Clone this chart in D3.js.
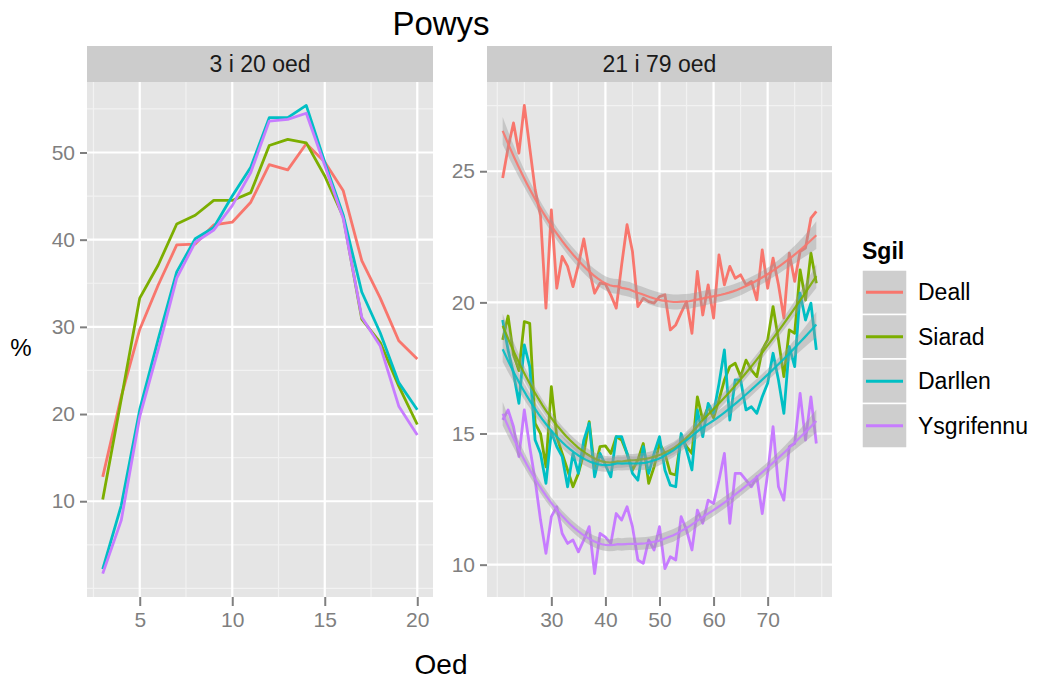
<!DOCTYPE html>
<html>
<head>
<meta charset="utf-8">
<script src="https://cdn.jsdelivr.net/npm/d3@7/dist/d3.min.js"></script>
<style>
  html, body { margin: 0; padding: 0; background: #ffffff; }
  svg { display: block; font-family: "Liberation Sans", Arial, Helvetica, sans-serif; }
</style>
</head>
<body>
<svg id="chart" width="1041" height="682"></svg>
<script>
// ---- data -------------------------------------------------------------
const sgil = ["Deall", "Siarad", "Darllen", "Ysgrifennu"];
const panelTitles = ["3 i 20 oed", "21 i 79 oed"];

// ages 3 to 20
const oedIfanc = [3, 4, 5, 6, 7, 8, 9, 10, 11, 12, 13, 14, 15, 16, 17, 18, 19, 20];
const deallIfanc      = [12.8, 22.0, 29.7, 34.8, 39.4, 39.5, 41.7, 42.0, 44.3, 48.6, 48.0, 51.0, 48.9, 45.6, 37.6, 33.3, 28.4, 26.3];
const siaradIfanc     = [10.2, 21.7, 33.3, 37.1, 41.8, 42.8, 44.5, 44.5, 45.4, 50.8, 51.5, 51.1, 47.3, 42.6, 30.9, 28.2, 23.2, 18.8];
const darllenIfanc    = [2.2, 9.5, 20.5, 28.6, 36.3, 40.1, 41.4, 45.0, 48.3, 54.0, 54.0, 55.4, 48.9, 42.8, 34.0, 29.3, 23.6, 20.5];
const ysgrifennuIfanc = [1.7, 7.8, 19.7, 27.4, 35.6, 39.7, 41.1, 43.9, 47.7, 53.6, 53.8, 54.5, 48.5, 42.4, 31.1, 27.8, 20.9, 17.6];

// ages 21 to 79
const oedHyn = [21, 22, 23, 24, 25, 26, 27, 28, 29, 30, 31, 32, 33, 34, 35, 36, 37, 38, 39, 40,
                41, 42, 43, 44, 45, 46, 47, 48, 49, 50, 51, 52, 53, 54, 55, 56, 57, 58, 59, 60,
                61, 62, 63, 64, 65, 66, 67, 68, 69, 70, 71, 72, 73, 74, 75, 76, 77, 78, 79];
const deallHyn = [24.74, 25.9, 26.84, 25.69, 27.51, 25.9, 24.3, 23.3, 19.78, 23.53,
                  20.54, 21.75, 21.37, 20.6, 21.43, 22.42, 21.25, 20.35, 20.73, 20.7,
                  20.28, 19.78, 21.43, 22.96, 21.94, 19.84, 20.16, 20.03, 19.97, 20.22,
                  20.29, 18.95, 19.14, 19.6, 20.03, 18.82, 21.18, 19.52, 20.67, 19.4,
                  21.81, 20.67, 21.37, 20.92, 21.05, 20.67, 20.8, 20.1, 22.0, 20.54,
                  21.69, 20.67, 19.4, 21.88, 20.8, 21.94, 22.07, 23.21, 23.47];
const siaradHyn = [18.57, 19.48, 18.0, 17.4, 19.27, 19.2, 15.39, 15.0, 13.73, 16.79,
                   14.88, 14.24, 13.61, 12.97, 13.48, 14.24, 15.45, 13.61, 14.5, 14.53,
                   14.24, 14.88, 14.75, 14.24, 13.61, 13.99, 14.62, 13.1, 13.73, 14.62,
                   14.24, 13.48, 13.42, 14.88, 14.5, 14.24, 16.4, 15.51, 16.02, 15.6,
                   16.28, 17.04, 17.55, 17.68, 17.17, 17.8, 17.42, 17.17, 18.19, 18.57,
                   19.84, 18.57, 17.17, 18.95, 18.82, 21.24, 20.09, 21.88, 20.73];
const darllenHyn = [19.33, 18.18, 17.3, 16.15, 18.38, 17.55, 14.75, 14.24, 13.1, 15.07,
                    14.5, 14.12, 12.97, 14.24, 13.48, 14.75, 15.39, 13.35, 14.24, 13.8,
                    13.35, 14.88, 14.88, 14.24, 13.48, 13.22, 14.5, 13.48, 14.24, 14.88,
                    13.61, 13.03, 12.97, 15.0, 14.37, 13.61, 15.9, 14.88, 16.15, 15.77,
                    16.9, 18.19, 15.51, 17.04, 17.04, 15.9, 16.02, 15.77, 16.4, 16.92,
                    18.06, 17.04, 15.77, 18.31, 17.55, 20.35, 19.33, 19.97, 18.19];
const ysgrifennuHyn = [15.52, 15.9, 15.26, 14.12, 15.9, 14.5, 13.22, 11.7, 10.43, 11.83,
                       12.21, 11.19, 10.81, 10.94, 10.49, 10.94, 11.45, 9.66, 11.19, 11.05,
                       10.81, 11.95, 11.7, 12.21, 11.45, 10.18, 10.05, 10.94, 10.56, 11.45,
                       9.85, 10.3, 10.18, 11.83, 11.32, 10.56, 12.08, 11.58, 12.46, 12.33,
                       13.22, 14.24, 11.58, 13.48, 13.48, 13.22, 12.97, 13.35, 11.95, 13.48,
                       15.26, 12.97, 12.46, 14.5, 14.62, 16.53, 14.75, 16.4, 14.62];

const ticksIfancX = [5, 10, 15, 20];
const ticksIfancY = [10, 20, 30, 40, 50];
const ticksHynX = [30, 40, 50, 60, 70];
const ticksHynY = [10, 15, 20, 25];

// ---- styling ------------------------------------------------------------
const colours = d3.scaleOrdinal().domain(sgil).range(["#F8766D", "#7CAE00", "#00BFC4", "#C77CFF"]);
const panelTop = 82, panelBottom = 597, stripTop = 46;
const panels = [
  { title: panelTitles[0], ages: oedIfanc, series: [deallIfanc, siaradIfanc, darllenIfanc, ysgrifennuIfanc],
    x0: 87, x1: 433, xTicks: ticksIfancX, yTicks: ticksIfancY, smooth: false },
  { title: panelTitles[1], ages: oedHyn, series: [deallHyn, siaradHyn, darllenHyn, ysgrifennuHyn],
    x0: 487, x1: 832, xTicks: ticksHynX, yTicks: ticksHynY, smooth: true }
];

// ---- local regression (degree 2, tricube weights, span 0.75) -------------
function invert3(m) {
  const [a, b, c] = m[0], [d, e, f] = m[1], [g, h, i] = m[2];
  const A = e * i - f * h, B = -(d * i - f * g), C = d * h - e * g;
  const det = a * A + b * B + c * C;
  return [
    [A / det, -(b * i - c * h) / det, (b * f - c * e) / det],
    [B / det, (a * i - c * g) / det, -(a * f - c * d) / det],
    [C / det, -(a * h - b * g) / det, (a * e - b * d) / det]
  ];
}
function loessRow(xs, x0, span) {
  const n = xs.length, q = Math.floor(n * span);
  const dist = xs.map(x => Math.abs(x - x0));
  const h = dist.slice().sort((p, r) => p - r)[q - 1];
  const w = dist.map(di => { const u = di / h; return u < 1 ? Math.pow(1 - u * u * u, 3) : 0; });
  const S = [[0, 0, 0], [0, 0, 0], [0, 0, 0]];
  xs.forEach((x, k) => {
    const t = x - x0, b = [1, t, t * t];
    for (let r = 0; r < 3; r++) for (let c = 0; c < 3; c++) S[r][c] += w[k] * b[r] * b[c];
  });
  const Si = invert3(S);
  return xs.map((x, k) => { const t = x - x0; return w[k] * (Si[0][0] + Si[0][1] * t + Si[0][2] * t * t); });
}
function loessSmooth(xs, ys, span, nOut, mult) {
  const n = xs.length;
  const L = xs.map(x => loessRow(xs, x, span));
  const fitted = L.map(row => d3.sum(row, (l, k) => l * ys[k]));
  const rss = d3.sum(ys, (y, k) => (y - fitted[k]) ** 2);
  // delta1 = trace((I-L)'(I-L))
  let delta1 = 0;
  for (let i = 0; i < n; i++) for (let j = 0; j < n; j++) {
    const m = (i === j ? 1 : 0) - L[i][j];
    delta1 += m * m;
  }
  const sigma = Math.sqrt(rss / delta1);
  const [lo, hi] = d3.extent(xs);
  const out = [];
  for (let k = 0; k < nOut; k++) {
    const x0 = lo + (hi - lo) * k / (nOut - 1);
    const row = loessRow(xs, x0, span);
    const fit = d3.sum(row, (l, j) => l * ys[j]);
    const se = sigma * Math.sqrt(d3.sum(row, l => l * l));
    out.push({ x: x0, y: fit, ymin: fit - mult * se, ymax: fit + mult * se });
  }
  return out;
}

// ---- drawing -----------------------------------------------------------
const svg = d3.select("#chart");

svg.append("text")
  .attr("x", 441).attr("y", 35)
  .attr("text-anchor", "middle")
  .attr("font-size", 33).attr("fill", "#000000")
  .text("Powys");

panels.forEach(p => {
  const allVals = p.series.flat();
  let smooths = [];
  if (p.smooth) {
    smooths = p.series.map(ys => loessSmooth(p.ages, ys, 0.75, 80, 1.0));
    smooths.forEach(s => s.forEach(d => allVals.push(d.ymin, d.ymax)));
  }
  const [xmin, xmax] = d3.extent(p.ages);
  const [ymin, ymax] = d3.extent(allVals);
  const xpad = 0.05 * (xmax - xmin), ypad = 0.05 * (ymax - ymin);
  const x = d3.scaleLinear().domain([xmin - xpad, xmax + xpad]).range([p.x0, p.x1]);
  const y = d3.scaleLinear().domain([ymin - ypad, ymax + ypad]).range([panelBottom, panelTop]);

  const g = svg.append("g");

  // strip
  g.append("rect")
    .attr("x", p.x0).attr("y", stripTop)
    .attr("width", p.x1 - p.x0).attr("height", panelTop - stripTop)
    .attr("fill", "#CCCCCC");
  g.append("text")
    .attr("x", (p.x0 + p.x1) / 2).attr("y", (stripTop + panelTop) / 2)
    .attr("dy", "0.35em").attr("text-anchor", "middle")
    .attr("font-size", 23).attr("fill", "#1A1A1A")
    .text(p.title);

  // panel background
  g.append("rect")
    .attr("x", p.x0).attr("y", panelTop)
    .attr("width", p.x1 - p.x0).attr("height", panelBottom - panelTop)
    .attr("fill", "#E5E5E5");

  // minor grid: midpoints between major breaks, extended one step each side
  const minorOf = ticks => {
    const step = ticks[1] - ticks[0];
    const m = [];
    for (let v = ticks[0] - step; v <= ticks[ticks.length - 1] + step + 1e-9; v += step / 2) m.push(v);
    return m.filter(v => !ticks.includes(v));
  };
  const xd = x.domain(), yd = y.domain();
  const minorX = minorOf(p.xTicks).filter(v => v > xd[0] && v < xd[1]);
  const minorY = minorOf(p.yTicks).filter(v => v > yd[0] && v < yd[1]);

  g.selectAll(null).data(minorX).enter().append("line")
    .attr("x1", d => x(d)).attr("x2", d => x(d))
    .attr("y1", panelTop).attr("y2", panelBottom)
    .attr("stroke", "#F2F2F2").attr("stroke-width", 1.2);
  g.selectAll(null).data(minorY).enter().append("line")
    .attr("x1", p.x0).attr("x2", p.x1)
    .attr("y1", d => y(d)).attr("y2", d => y(d))
    .attr("stroke", "#F2F2F2").attr("stroke-width", 1.2);
  g.selectAll(null).data(p.xTicks).enter().append("line")
    .attr("x1", d => x(d)).attr("x2", d => x(d))
    .attr("y1", panelTop).attr("y2", panelBottom)
    .attr("stroke", "#FFFFFF").attr("stroke-width", 2.2);
  g.selectAll(null).data(p.yTicks).enter().append("line")
    .attr("x1", p.x0).attr("x2", p.x1)
    .attr("y1", d => y(d)).attr("y2", d => y(d))
    .attr("stroke", "#FFFFFF").attr("stroke-width", 2.2);

  // axes
  const xAxis = d3.axisBottom(x).tickValues(p.xTicks).tickSize(9).tickPadding(6).tickFormat(d3.format("d"));
  const yAxis = d3.axisLeft(y).tickValues(p.yTicks).tickSize(7).tickPadding(5).tickFormat(d3.format("d"));
  const gx = g.append("g").attr("transform", `translate(0,${panelBottom})`).call(xAxis);
  const gy = g.append("g").attr("transform", `translate(${p.x0},0)`).call(yAxis);
  [gx, gy].forEach(a => {
    a.select(".domain").remove();
    a.selectAll(".tick line").attr("stroke", "#7F7F7F").attr("stroke-width", 2);
    a.selectAll(".tick text").attr("fill", "#7F7F7F").attr("font-size", 21)
      .attr("font-family", "'Liberation Sans', Arial, sans-serif");
  });

  // data lines
  const line = d3.line().x(d => x(d[0])).y(d => y(d[1]));
  p.series.forEach((ys, i) => {
    g.append("path")
      .datum(p.ages.map((a, k) => [a, ys[k]]))
      .attr("d", line)
      .attr("fill", "none")
      .attr("stroke", colours(sgil[i]))
      .attr("stroke-width", 2.8)
      .attr("stroke-linejoin", "round");
  });

  // smoothers with confidence band
  if (p.smooth) {
    const band = d3.area().x(d => x(d.x)).y0(d => y(d.ymin)).y1(d => y(d.ymax));
    const sline = d3.line().x(d => x(d.x)).y(d => y(d.y));
    smooths.forEach((s, i) => {
      g.append("path").datum(s).attr("d", band)
        .attr("fill", "#999999").attr("fill-opacity", 0.4);
      g.append("path").datum(s).attr("d", sline)
        .attr("fill", "none").attr("stroke", colours(sgil[i]))
        .attr("stroke-width", 2.2).attr("stroke-opacity", 0.9);
    });
  }
});

// axis titles
svg.append("text")
  .attr("x", 441).attr("y", 674)
  .attr("text-anchor", "middle")
  .attr("font-size", 28).attr("fill", "#000000")
  .text("Oed");
svg.append("text")
  .attr("x", 21).attr("y", 348)
  .attr("text-anchor", "middle").attr("dy", "0.35em")
  .attr("font-size", 24).attr("fill", "#000000")
  .text("%");

// legend
const legend = svg.append("g").attr("transform", "translate(862,0)");
legend.append("text")
  .attr("x", 0).attr("y", 259)
  .attr("font-size", 23).attr("font-weight", "bold").attr("fill", "#000000")
  .text("Sgil");
const keyTop = 270, keyH = 44.5, keyW = 45;
sgil.forEach((s, i) => {
  const ky = keyTop + i * keyH;
  legend.append("rect")
    .attr("x", 0).attr("y", ky).attr("width", keyW).attr("height", keyH)
    .attr("fill", "#F2F2F2").attr("stroke", "#FFFFFF").attr("stroke-width", 1.5);
  legend.append("rect")
    .attr("x", 0.75).attr("y", ky + 0.75).attr("width", keyW - 1.5).attr("height", keyH - 1.5)
    .attr("fill", "#999999").attr("fill-opacity", 0.4);
  legend.append("line")
    .attr("x1", 4).attr("x2", keyW - 4)
    .attr("y1", ky + keyH / 2).attr("y2", ky + keyH / 2)
    .attr("stroke", colours(s)).attr("stroke-width", 2.8);
  legend.append("text")
    .attr("x", 56).attr("y", ky + keyH / 2).attr("dy", "0.35em")
    .attr("font-size", 23).attr("fill", "#000000")
    .text(s);
});
</script>
</body>
</html>
